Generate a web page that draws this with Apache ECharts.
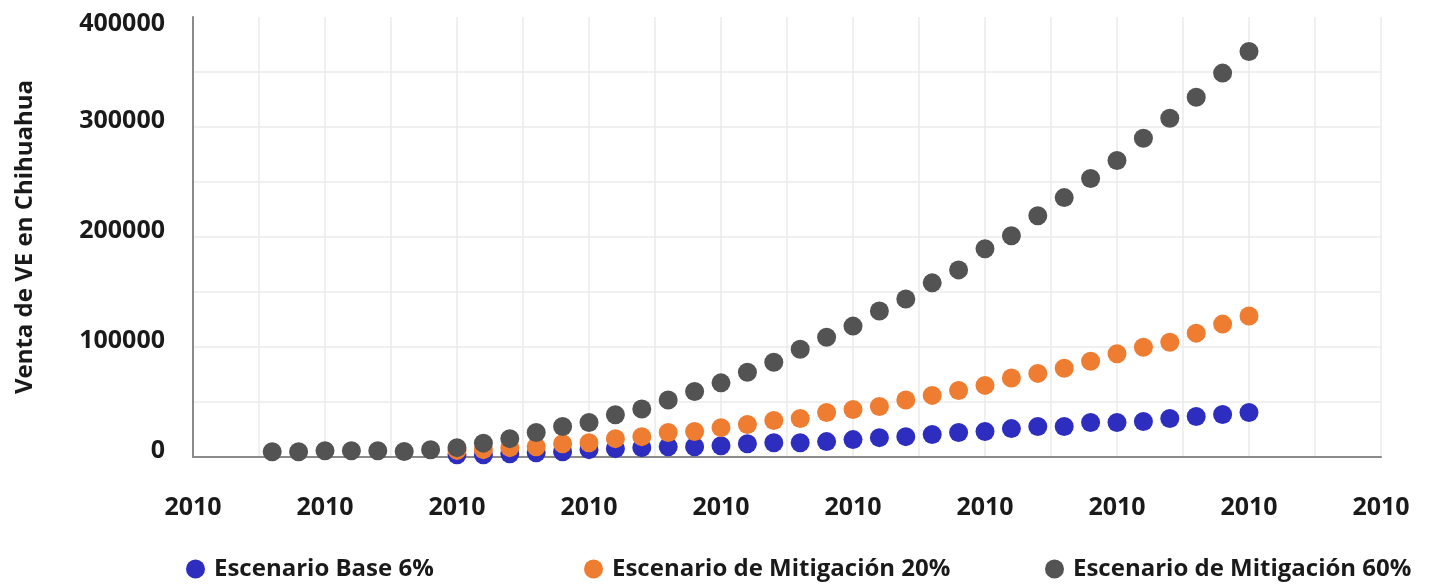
<!DOCTYPE html>
<html>
<head>
<meta charset="utf-8">
<title>Venta de VE en Chihuahua</title>
<script src="https://cdn.jsdelivr.net/npm/echarts@6/dist/echarts.min.js"></script>
<style>
  html, body { margin: 0; padding: 0; background: #ffffff; }
  #chart { width: 1429px; height: 586px; }
</style>
</head>
<body>
<div id="chart"></div>
<script>
// Years on the horizontal axis
const yearsAll = [2013, 2014, 2015, 2016, 2017, 2018, 2019, 2020, 2021, 2022,
  2023, 2024, 2025, 2026, 2027, 2028, 2029, 2030, 2031, 2032,
  2033, 2034, 2035, 2036, 2037, 2038, 2039, 2040, 2041, 2042,
  2043, 2044, 2045, 2046, 2047, 2048, 2049, 2050];
const yearsScen = [2020, 2021, 2022, 2023, 2024, 2025, 2026, 2027, 2028, 2029,
  2030, 2031, 2032, 2033, 2034, 2035, 2036, 2037, 2038, 2039,
  2040, 2041, 2042, 2043, 2044, 2045, 2046, 2047, 2048, 2049, 2050];

// Sales per scenario
const base6 = [2100, 2100, 3000, 3900, 4800, 6700, 7600, 8500, 9400, 9400,
  10300, 12100, 13000, 13000, 14000, 15800, 17600, 18500, 20400, 22200,
  23100, 25800, 27700, 27700, 31300, 31300, 32200, 35000, 36800, 38600, 40500];
const mitig20 = [6000, 6700, 8500, 9400, 12100, 13000, 16700, 18500, 22200, 23100,
  26700, 29500, 33100, 35000, 40500, 43200, 45900, 51800, 56000, 60500,
  65100, 71900, 76000, 80600, 87000, 93900, 99800, 104400, 112600, 120800, 128100];
const mitig60 = [4800, 4800, 5700, 5700, 5700, 5000, 6600, 8500, 12600, 16700,
  22200, 27700, 31300, 38400, 43600, 51800, 59600, 67400, 77000, 86100,
  98000, 108900, 119000, 132700, 143700, 158300, 170100, 189300, 201200, 219400,
  235800, 253200, 269600, 289700, 307900, 327100, 349000, 368700];

// Axis tick labels
const xTickLabels = ['2010', '2010', '2010', '2010', '2010', '2010', '2010', '2010', '2010', '2010'];
const yTickLabels = ['0', '100000', '200000', '300000', '400000'];

const seriesNames = ['Escenario Base 6%', 'Escenario de Mitigación 20%', 'Escenario de Mitigación 60%'];
const colors = ['#2d2dc0', '#ee7d31', '#535353'];

const X_MIN = 2010, X_STEP = 5, Y_STEP = 100000;
const FONT = '"Open Sans", "DejaVu Sans", sans-serif';
const TXT = '#1a1a1a';

function pairs(xs, ys) { return ys.map((v, i) => [xs[i], v]); }

const chart = echarts.init(document.getElementById('chart'), null, { renderer: 'canvas' });

const legendLefts = [186, 584, 1045];

chart.setOption({
  animation: false,
  backgroundColor: '#ffffff',
  color: colors,
  grid: { left: 193, right: 48, top: 17, bottom: 129, containLabel: false },
  legend: seriesNames.map((n, i) => ({
    data: [n],
    left: legendLefts[i],
    top: 557,
    icon: 'circle',
    itemWidth: 19,
    itemHeight: 19,
    itemGap: 0,
    padding: 0,
    selectedMode: false,
    textStyle: { fontFamily: FONT, fontWeight: 700, fontSize: 24, color: TXT, padding: [0, 0, 0, 4] }
  })),
  xAxis: {
    type: 'value',
    min: X_MIN,
    max: X_MIN + X_STEP * (xTickLabels.length - 1),
    interval: X_STEP,
    axisLine: { show: true, lineStyle: { color: '#8a8a8a', width: 2 } },
    axisTick: { show: false },
    minorTick: { show: false, splitNumber: 2 },
    splitLine: { show: true, lineStyle: { color: '#ebebeb', width: 1.5 } },
    minorSplitLine: { show: true, lineStyle: { color: '#ebebeb', width: 1.5 } },
    axisLabel: {
      margin: 38,
      fontFamily: FONT, fontWeight: 700, fontSize: 25, color: TXT,
      formatter: v => xTickLabels[Math.round((v - X_MIN) / X_STEP)]
    }
  },
  yAxis: {
    type: 'value',
    min: 0,
    max: Y_STEP * (yTickLabels.length - 1),
    interval: Y_STEP,
    name: 'Venta de VE en Chihuahua',
    nameLocation: 'middle',
    nameGap: 156,
    nameTextStyle: { fontFamily: FONT, fontWeight: 700, fontSize: 24, color: TXT },
    axisLine: { show: true, lineStyle: { color: '#8a8a8a', width: 2 } },
    axisTick: { show: false },
    minorTick: { show: false, splitNumber: 2 },
    splitLine: { show: true, showMaxLine: false, lineStyle: { color: '#ebebeb', width: 1.5 } },
    minorSplitLine: { show: true, lineStyle: { color: '#ebebeb', width: 1.5 } },
    axisLabel: {
      margin: 28,
      verticalAlign: 'bottom',
      verticalAlignMaxLabel: 'top',
      lineHeight: 13,
      fontFamily: FONT, fontWeight: 700, fontSize: 25, color: TXT,
      formatter: v => yTickLabels[Math.round(v / Y_STEP)]
    }
  },
  series: [
    { name: seriesNames[0], type: 'scatter', symbolSize: 19, data: pairs(yearsScen, base6), itemStyle: { color: colors[0], opacity: 1 } },
    { name: seriesNames[1], type: 'scatter', symbolSize: 19, data: pairs(yearsScen, mitig20), itemStyle: { color: colors[1], opacity: 1 } },
    { name: seriesNames[2], type: 'scatter', symbolSize: 19, data: pairs(yearsAll, mitig60), itemStyle: { color: colors[2], opacity: 1 } }
  ]
});
</script>
</body>
</html>
